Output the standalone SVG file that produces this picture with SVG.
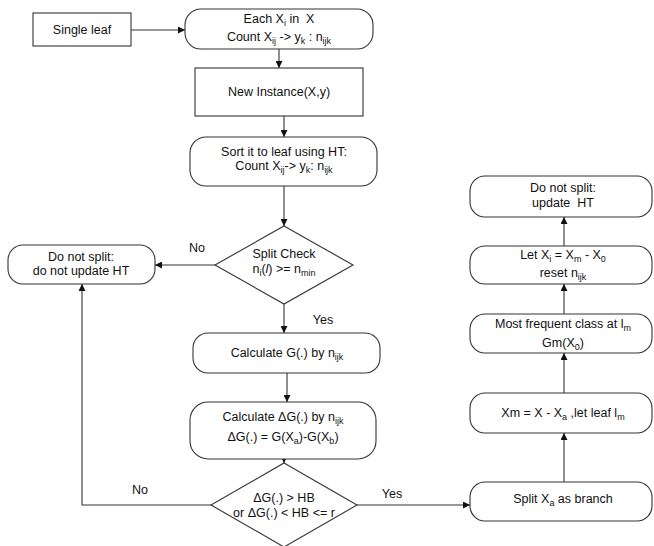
<svg xmlns="http://www.w3.org/2000/svg" width="654" height="546" viewBox="0 0 654 546">
<defs>
<marker id="ah" viewBox="0 0 10 10" refX="10" refY="5" markerWidth="7" markerHeight="7" markerUnits="userSpaceOnUse" orient="auto">
<path d="M0,0 L10,5 L0,10 z" fill="#111"/>
</marker>
</defs>
<style>
.box{fill:#fff;stroke:#333;stroke-width:1.1}
.ln{fill:none;stroke:#333;stroke-width:1.1}
.arr{fill:none;stroke:#333;stroke-width:1.1;marker-end:url(#ah)}
text{font-family:"Liberation Sans",Arial,sans-serif;font-size:12.5px;fill:#111;text-anchor:middle}
.s{font-size:9px}
</style>
<rect width="654" height="546" fill="#fff"/>
<g id="connectors">
<line class="arr" x1="131" y1="30" x2="185" y2="30"/>
<line class="arr" x1="279" y1="49" x2="279" y2="68"/>
<line class="arr" x1="284" y1="116" x2="284" y2="137"/>
<line class="arr" x1="284" y1="186" x2="284" y2="226"/>
<line class="arr" x1="215" y1="265" x2="155" y2="265"/>
<line class="arr" x1="284" y1="304" x2="284" y2="333"/>
<line class="arr" x1="287" y1="373" x2="287" y2="402"/>
<line class="arr" x1="284" y1="459" x2="284" y2="463"/>
<polyline class="arr" points="211,505 82,505 82,284"/>
<line class="arr" x1="357" y1="505" x2="470" y2="505"/>
<line class="arr" x1="564" y1="482" x2="564" y2="433"/>
<line class="arr" x1="564" y1="393" x2="564" y2="353"/>
<line class="arr" x1="564" y1="314" x2="564" y2="284"/>
<line class="arr" x1="564" y1="246" x2="564" y2="217"/>
<text x="197" y="252">No</text>
<text x="323" y="324">Yes</text>
<text x="140" y="494">No</text>
<text x="392" y="498">Yes</text>
</g>
<g id="single-leaf">
<rect class="box" x="33" y="13" width="98" height="33"/>
<text x="82" y="34">Single leaf</text>
</g>
<g id="each-xi">
<rect class="box" x="185" y="9" width="188" height="40" rx="16"/>
<text x="279" y="23">Each X<tspan class="s" dy="3">i</tspan><tspan dy="-3"> in&#160; X</tspan></text>
<text x="279" y="41">Count X<tspan class="s" dy="3">ij</tspan><tspan dy="-3"> -&gt; y</tspan><tspan class="s" dy="3">k</tspan><tspan dy="-3"> : n</tspan><tspan class="s" dy="3">ijk</tspan></text>
</g>
<g id="new-instance">
<rect class="box" x="195" y="68" width="168" height="48"/>
<text x="279" y="96">New Instance(X,y)</text>
</g>
<g id="sort-leaf">
<rect class="box" x="190" y="137" width="187" height="49" rx="16"/>
<text x="284" y="156">Sort it to leaf using HT:</text>
<text x="284" y="170">Count X<tspan class="s" dy="3">ij</tspan><tspan dy="-3">-&gt; y</tspan><tspan class="s" dy="3">k</tspan><tspan dy="-3">: n</tspan><tspan class="s" dy="3">ijk</tspan></text>
</g>
<g id="split-check">
<polygon class="box" points="284,226 353,265 284,304 215,265"/>
<text x="284" y="258">Split Check</text>
<text x="284" y="273">n<tspan class="s" dy="3">i</tspan><tspan dy="-3">(</tspan><tspan font-style="italic">l</tspan>) &gt;= n<tspan class="s" dy="3">min</tspan></text>
</g>
<g id="no-split-no-update">
<rect class="box" x="8" y="245" width="147" height="39" rx="15"/>
<text x="81" y="261">Do not split:</text>
<text x="81" y="275">do not update HT</text>
</g>
<g id="calc-g">
<rect class="box" x="193" y="333" width="187" height="40" rx="15"/>
<text x="287" y="357">Calculate G(.) by n<tspan class="s" dy="3">ijk</tspan></text>
</g>
<g id="calc-dg">
<rect class="box" x="190" y="402" width="186" height="57" rx="18"/>
<text x="283" y="421">Calculate ΔG(.) by n<tspan class="s" dy="3">ijk</tspan></text>
<text x="283" y="441">ΔG(.) = G(X<tspan class="s" dy="3">a</tspan><tspan dy="-3">)-G(X</tspan><tspan class="s" dy="3">b</tspan><tspan dy="-3">)</tspan></text>
</g>
<g id="hb-check">
<polygon class="box" points="284,463 357,505 284,547 211,505"/>
<text x="284" y="502">ΔG(.) &gt; HB</text>
<text x="284" y="517">or ΔG(.) &lt; HB &lt;= r</text>
</g>
<g id="split-branch">
<rect class="box" x="470" y="482" width="182" height="39" rx="15"/>
<text x="563" y="503">Split X<tspan class="s" dy="3">a</tspan><tspan dy="-3"> as branch</tspan></text>
</g>
<g id="xm-leaf">
<rect class="box" x="470" y="393" width="182" height="40" rx="15"/>
<text x="563" y="417">Xm = X - X<tspan class="s" dy="3">a</tspan><tspan dy="-3"> ,let leaf l</tspan><tspan class="s" dy="3">m</tspan></text>
</g>
<g id="most-frequent">
<rect class="box" x="470" y="314" width="182" height="39" rx="15"/>
<text x="563" y="328">Most frequent class at l<tspan class="s" dy="3">m</tspan></text>
<text x="563" y="347">Gm(X<tspan class="s" dy="3">0</tspan><tspan dy="-3">)</tspan></text>
</g>
<g id="let-xi">
<rect class="box" x="470" y="246" width="182" height="38" rx="15"/>
<text x="563" y="259">Let X<tspan class="s" dy="3">i</tspan><tspan dy="-3"> = X</tspan><tspan class="s" dy="3">m</tspan><tspan dy="-3"> - X</tspan><tspan class="s" dy="3">0</tspan></text>
<text x="563" y="277">reset n<tspan class="s" dy="3">ijk</tspan></text>
</g>
<g id="no-split-update">
<rect class="box" x="470" y="176" width="182" height="41" rx="15"/>
<text x="563" y="192">Do not split:</text>
<text x="563" y="207">update&#160; HT</text>
</g>
</svg>
